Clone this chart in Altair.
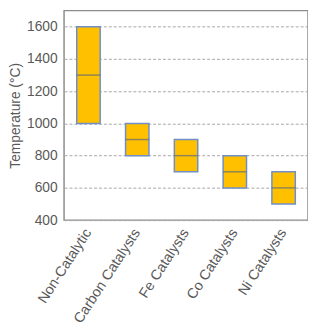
import altair as alt
import pandas as pd

categories = ["Non-Catalytic", "Carbon Catalysts", "Fe Catalysts", "Co Catalysts", "Ni Catalysts"]
low_vals = [1000, 800, 700, 600, 500]
high_vals = [1600, 1000, 900, 800, 700]
mid_vals = [1300, 900, 800, 700, 600]
y_ticks = [400, 600, 800, 1000, 1200, 1400, 1600]

df = pd.DataFrame({"cat": categories, "low": low_vals, "high": high_vals, "mid": mid_vals})

x_enc = alt.X(
    "cat:N",
    sort=categories,
    title=None,
    scale=alt.Scale(paddingInner=0.52, paddingOuter=0.26),
    axis=alt.Axis(labelAngle=-57, labelAlign="right", labelBaseline="middle",
                  ticks=False, domain=False, labelPadding=10,
                  labelFont="Liberation Sans", labelFontSize=14.5, labelColor="#595959"),
)

y_scale = alt.Scale(domain=[400, 1700], nice=False, zero=False)

y_axis = alt.Axis(values=y_ticks, tickCount=20, format="d", labelOverlap=False,
                  grid=True, gridDash=[3, 2], gridColor="#A6A6A6",
                  gridWidth=1, ticks=False, domain=False, labelPadding=7,
                  labelFont="Liberation Sans", labelFontSize=14, labelColor="#595959",
                  titleFont="Liberation Sans", titleFontSize=14, titleFontWeight="normal",
                  titleColor="#595959", titlePadding=4)

bars = alt.Chart(df).mark_bar(
    fill="#FFC000", stroke="#6F8FC6", strokeWidth=1.5
).encode(
    x=x_enc,
    y=alt.Y("low:Q", scale=y_scale, title="Temperature (°C)", axis=y_axis),
    y2="high:Q",
)

mids = alt.Chart(df).mark_tick(color="#5F6B7A", thickness=1.5, size=24).encode(
    x=alt.X("cat:N", sort=categories),
    y=alt.Y("mid:Q", scale=y_scale, title="Temperature (°C)", axis=y_axis),
)

chart = (bars + mids).properties(
    width=248, height=213, padding={"left": 0, "top": 0, "right": 0, "bottom": 0}
).configure_view(stroke="#8C8C8C", strokeWidth=1.5)

chart.save("out.html", embed_options={"renderer": "svg", "actions": False})
